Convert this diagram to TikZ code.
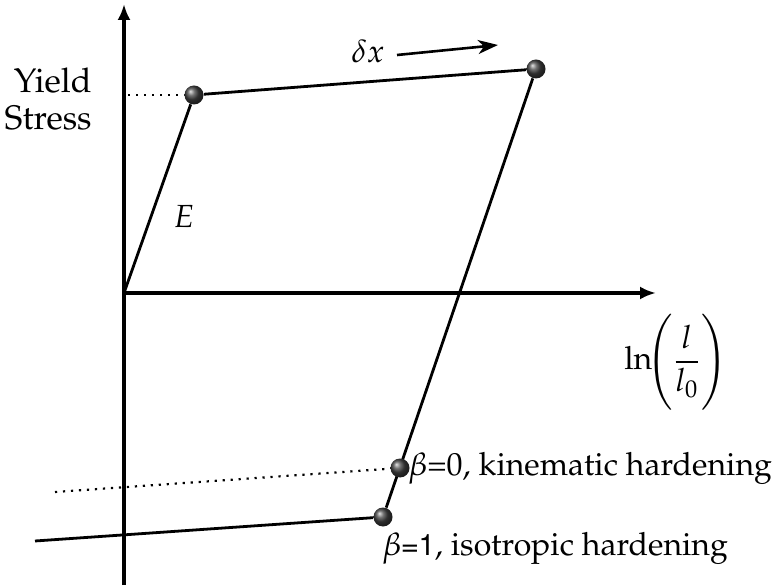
\documentclass[tikz,border=0pt]{standalone}
\usepackage{amsmath}
\usepackage[T1]{fontenc}
\usepackage{mathpazo}
\usepackage[scaled=0.92]{helvet}
\usepackage{tikz}
\usetikzlibrary{calc, positioning, arrows.meta, backgrounds}
\definecolor{ballgrey}{RGB}{65,65,65}
\tikzset{
    statept/.style={circle, inner sep=0pt, minimum size=9.5pt, shading=ball, ball color=ballgrey},
    axisline/.style={-{Latex[length=8pt,width=6.5pt]}, line width=1.6pt},
    pathline/.style={line width=1.4pt},
    guideline/.style={line width=1.1pt, dash pattern=on 1.1pt off 2.9pt},
    shiftarrow/.style={-{Stealth[length=10pt,width=7pt,inset=3pt]}, line width=1.3pt},
    lbl/.style={font=\fontsize{16}{19}\selectfont, inner sep=1pt}
}
\begin{document}
\begin{tikzpicture}[x=0.5pt,y=-0.5pt]
            \useasboundingbox (0,0) rectangle (776,587);
            \coordinate (O) at (124,293);
            \coordinate (ybot) at (124,585);
            \coordinate (ytop) at (124,4);
            \coordinate (xtip) at (656,293);
            \coordinate (isoend) at (35,541);
            \coordinate (kinstart) at (55,492);
            \coordinate (yldstart) at (128,95);
            \node[statept] (yield) at (194,95) {};
            \node[statept] (tip) at (536,69) {};
            \node[statept] (kin) at (400,468) {};
            \node[statept] (iso) at (383,517) {};
            \begin{scope}[on background layer]
                \draw[axisline] (ybot) -- (ytop);
                \draw[axisline] (O) -- (xtip);
                \draw[pathline] (O) -- (yield);
                \draw[pathline] (yield) -- (tip);
                \draw[pathline] (tip) -- (iso);
                \draw[pathline] (iso) -- (isoend);
                \draw[guideline] (yldstart) -- (yield);
                \draw[guideline] (kinstart) -- (kin);
            \end{scope}
            \coordinate (dxstart) at (397,55);
            \coordinate (dxend) at (498,45);
            \draw[shiftarrow] (dxstart) -- (dxend);
            \node[lbl] (dx) at (368,51) {$\delta x$};
            \node[lbl, font=\fontsize{17}{18.5}\selectfont, align=right, anchor=east] (ys) at (94,99) {Yield\\Stress};
            \node[lbl] (modulus) at (184,217) {$E$};
            \node[lbl, anchor=west] (strain) at (622,362) {$\ln\!\Biggl(\dfrac{l}{l_0}\Biggr)$};
            \node[lbl, anchor=west] (kinlbl) at (406,468) {$\beta$=0, kinematic hardening};
            \node[lbl, anchor=west] (isolbl) at (380,548) {$\beta$\textsf{=1}, isotropic hardening};
        \end{tikzpicture}
\end{document}
